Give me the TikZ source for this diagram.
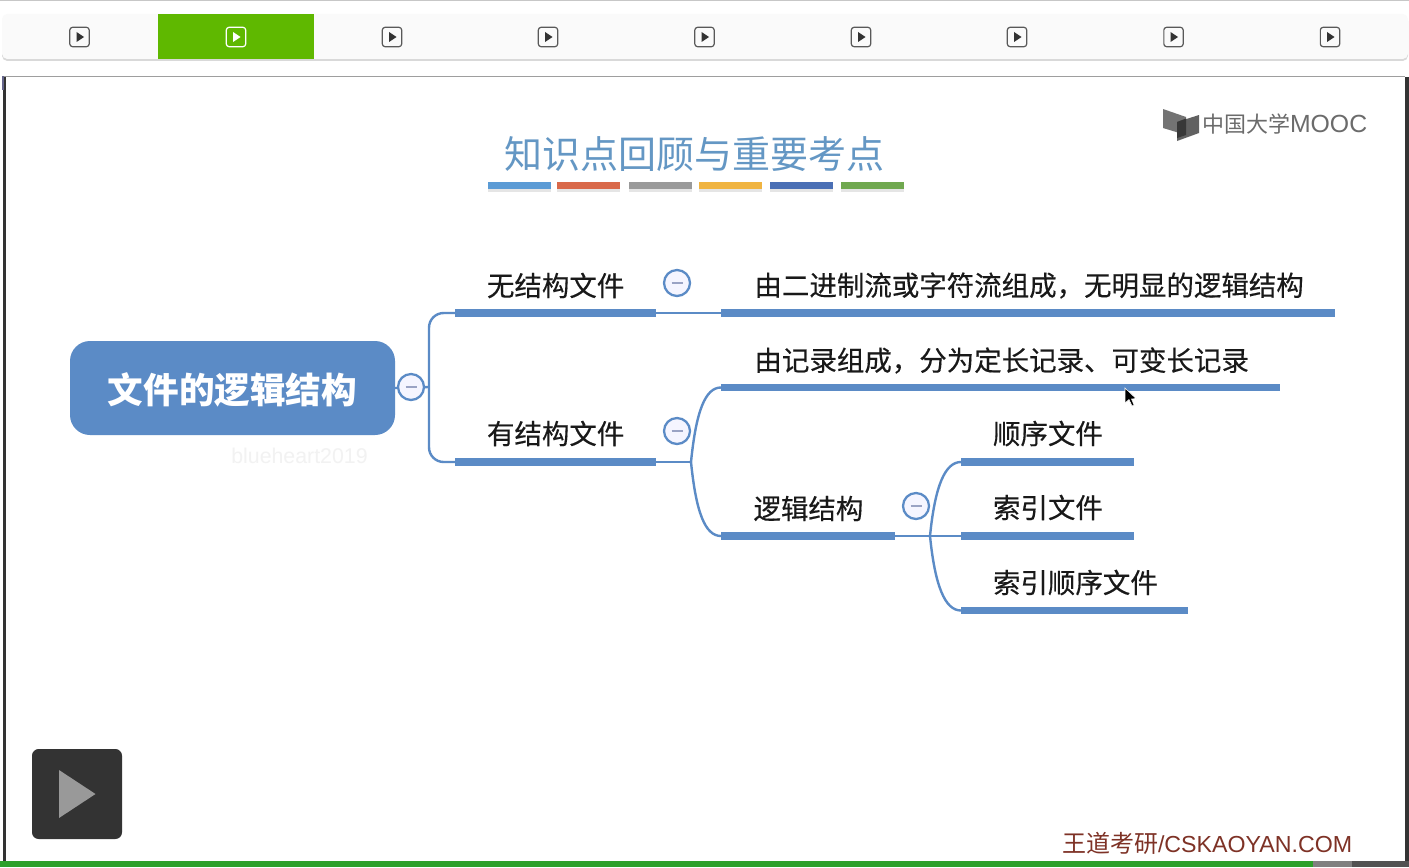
\documentclass[tikz,border=0pt]{standalone}
\usepackage{fontspec}
\setmainfont{Liberation Sans}
\newfontfamily\cjk{Noto Sans CJK SC}
\newfontfamily\cjkheavy[FakeBold=0.35]{Noto Sans CJK SC}
\usetikzlibrary{calc}
\definecolor{mapblue}{HTML}{5B8BC6}
\definecolor{tabgreen}{HTML}{5FB800}
\definecolor{titleblue}{HTML}{6497C4}
\definecolor{wdred}{HTML}{7E3226}
\definecolor{minusgray}{HTML}{9AA3C4}
\definecolor{barend}{HTML}{2CA02A}
\tikzset{
  x=0.75pt,y=-0.75pt,
  every node/.style={inner sep=0pt,outer sep=0pt},
  topicbar/.style={fill=mapblue,anchor=west,minimum height=5.8pt},
  topictext/.style={anchor=west,font=\cjkheavy\fontsize{20.6}{24}\selectfont,text=black!90},
  toggle/.style={circle,draw=mapblue,line width=1.7pt,fill=white!96!blue,minimum size=19.5pt},
  link/.style={draw=mapblue,line width=1.8pt},
  accent/.style={minimum width=47.5pt,minimum height=5pt,anchor=west},
  accentshadow/.style={fill=black!10,minimum width=47.5pt,minimum height=5pt,anchor=west},
  tabicon/.style={draw=#1,rounded corners=2pt,line width=0.9pt,minimum size=14.5pt},
}
\begin{document}
\begin{tikzpicture}
\useasboundingbox (0,0) rectangle (1409,867);
\fill[white] (0,0) rectangle (1409,867);
% outer chrome
\fill[black!22] (0,0) rectangle (1409,1.5);
\fill[black!15] (2,16) [rounded corners=4pt] -- (2,61) -- (1408,61) -- (1408,16) -- cycle;
\fill[black!2] (2,14) [rounded corners=4pt] -- (2,59) -- (1408,59) -- (1408,14) -- cycle;
\fill[tabgreen] (158,14) rectangle (314,59);
\foreach \n/\cx in {1/79.5,3/392,4/548,5/704.5,6/861,7/1017,8/1173.5,9/1330}{
  \node[tabicon=black!65] (tab\n) at (\cx,37) {};
  \fill[black!80] ($(tab\n)+(-3,-5)$) -- ($(tab\n)+(4.5,0)$) -- ($(tab\n)+(-3,5)$) -- cycle;
}
\node[tabicon=white] (tab2) at (236,37) {};
\fill[white] ($(tab2)+(-3,-5)$) -- ($(tab2)+(4.5,0)$) -- ($(tab2)+(-3,5)$) -- cycle;
% slide frame
\fill[black!80] (3,77) rectangle (6,861);
\fill[black!80] (1405,77) rectangle (1409,861);
\fill[black!38] (2,76) rectangle (1405,77.5);
\fill[black!75!blue!60] (2,76) rectangle (4,90);
\fill[barend] (0,861) rectangle (1313,867);
\fill[black!50] (1313,861) rectangle (1352,867);
\fill[black!68] (1352,861) rectangle (1409,867);
% title
\node[font=\cjk\fontsize{28.5}{34}\selectfont,text=titleblue,anchor=west] (title) at (504,154) {知识点回顾与重要考点};
\foreach \n/\x/\c in {1/488/5B9BD5,2/557/D9694A,3/629/9A9A9A,4/699/F0B441,5/770/4A6FB5,6/841/70A84F}{
  \definecolor{acc}{HTML}{\c}
  \node[accentshadow] (ashadow\n) at (\x,188.5) {};
  \node[accent,fill=acc] (accent\n) at (\x,185.5) {};
}
% logo
\fill[black!55] (1163,109) -- (1186,117) -- (1186,135) -- (1163,128) -- cycle;
\fill[black!62] (1199,115) -- (1199,133) -- (1177,141) -- (1177,122) -- cycle;
\fill[black!78] (1177,122) -- (1186,118.5) -- (1186,135) -- (1177,138) -- cycle;
\node[anchor=west,text=black!58] (logo) at (1202,124) {\cjk\fontsize{16.5}{20}\selectfont 中国大学\rmfamily\fontsize{18.6}{20}\selectfont MOOC};
% map
\node[fill=mapblue,rounded corners=15pt,minimum width=243.75pt,minimum height=70.5pt,text=white,text height=26pt,text depth=3pt,font=\cjk\bfseries\fontsize{26.7}{30}\selectfont] (root) at (232.5,388) {文件的逻辑结构};
\node[anchor=center,text=black!5,font=\fontsize{16}{18}\selectfont] (mark) at (299.5,456) {blueheart2019};

\node[topicbar,minimum width=150.75pt] (b1) at (455,313) {};
\node[topicbar,minimum width=150.75pt] (b2) at (455,462) {};
\node[topicbar,minimum width=460.5pt] (b3) at (721,313) {};
\node[topicbar,minimum width=419.25pt] (b4) at (721,387.5) {};
\node[topicbar,minimum width=130.5pt] (b5) at (721,536) {};
\node[topicbar,minimum width=129.75pt] (b6) at (961,462) {};
\node[topicbar,minimum width=129.75pt] (b7) at (961,536) {};
\node[topicbar,minimum width=170.25pt] (b8) at (961,610.5) {};

\node[topictext] (t1) at (487,285.5) {无结构文件};
\node[topictext] (t2) at (487,433.5) {有结构文件};
\node[topictext] (t3) at (754.5,285.5) {由二进制流或字符流组成，无明显的逻辑结构};
\node[topictext] (t4) at (754.5,360.5) {由记录组成，分为定长记录、可变长记录};
\node[topictext] (t5) at (753.5,508.5) {逻辑结构};
\node[topictext] (t6) at (993,433.5) {顺序文件};
\node[topictext] (t7) at (993,507.5) {索引文件};
\node[topictext] (t8) at (993,582.5) {索引顺序文件};

% connectors
\coordinate (s0) at (429,387);
\coordinate (s1) at (691,462);
\coordinate (s2) at (930,536);
\draw[link] (root.east) -- (s0);
\draw[link,rounded corners=11pt] (b1.west) -| (s0) |- (b2.west);
\draw[link] (b1.east) -- (b3.west);
\draw[link] (b2.east) -- (s1);
\draw[link] (s1) .. controls ($(s1)+(5,-50)$) and ($(b4.west)+(-16,0)$) .. (b4.west);
\draw[link] (s1) .. controls ($(s1)+(5,50)$) and ($(b5.west)+(-16,0)$) .. (b5.west);
\draw[link] (b5.east) -- (s2);
\draw[link] (s2) -- (b7.west);
\draw[link] (s2) .. controls ($(s2)+(5,-50)$) and ($(b6.west)+(-16,0)$) .. (b6.west);
\draw[link] (s2) .. controls ($(s2)+(5,50)$) and ($(b8.west)+(-16,0)$) .. (b8.west);

\foreach \n/\px/\py in {1/411/387,2/677/283,3/677/431,4/916/506}{
  \node[toggle] (tg\n) at (\px,\py) {};
  \draw[minusgray,line width=1.5pt] ($(tg\n)+(-5.5,0)$) -- ($(tg\n)+(5.5,0)$);
}
% cursor
\fill[black,draw=white,line width=0.4pt] (1125,388) -- (1125,403) -- (1129,399.5) -- (1132,406) -- (1134,405) -- (1131.5,399) -- (1136,398.5) -- cycle;
% play button
\node[fill=black!80,rounded corners=5pt,minimum size=67.5pt] (play) at (77,794) {};
\fill[black!40] (59,770) -- (95.5,794) -- (59,818) -- cycle;
% watermark
\node[anchor=west,text=wdred] (wd) at (1062,843) {\cjk\fontsize{18}{22}\selectfont 王道考研\rmfamily\fontsize{17.4}{22}\selectfont /CSKAOYAN.COM};
\end{tikzpicture}
\end{document}
